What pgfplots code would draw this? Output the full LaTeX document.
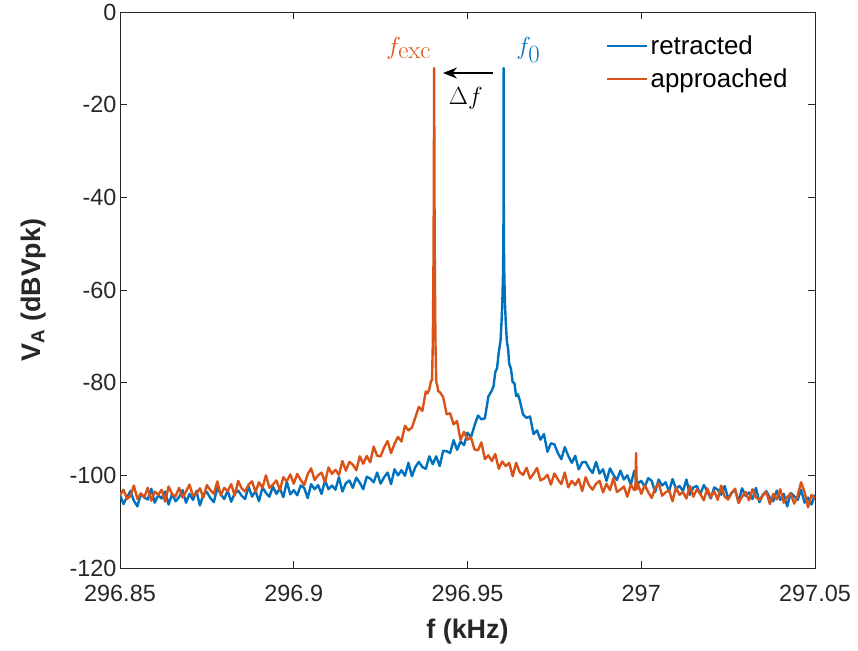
\documentclass[border=0pt]{standalone}
\usepackage[no-math]{fontspec}
\setmainfont{Liberation Sans}
\usepackage{pgfplots}
\usepackage{pgfplotstable}
\pgfplotsset{compat=1.18}
\usetikzlibrary{arrows.meta}
\definecolor{mblue}{rgb}{0,0.447,0.741}
\definecolor{morange}{rgb}{0.85,0.325,0.098}
\definecolor{mgray}{rgb}{0.15,0.15,0.15}

% x = (f - 296.85 kHz) in Hz
\pgfplotstableread{
x y
0 -104.2
1 -106.2
2 -104.7
3 -103.4
4 -105.5
5 -106.7
6 -104.0
7 -104.8
8 -105.2
9 -102.9
10 -105.9
11 -104.3
12 -105.0
13 -103.5
14 -106.3
15 -104.0
16 -105.6
17 -104.7
18 -103.2
19 -105.9
20 -104.0
21 -105.3
22 -103.4
23 -106.5
24 -104.1
25 -103.6
26 -104.9
27 -105.8
28 -102.7
29 -104.1
30 -105.1
31 -103.3
32 -105.7
33 -103.9
34 -103.3
35 -104.4
36 -105.1
37 -102.4
38 -104.6
39 -103.4
40 -105.6
41 -102.6
42 -103.8
43 -104.6
44 -102.4
45 -104.0
46 -102.8
47 -104.7
48 -101.4
49 -104.1
50 -103.2
51 -104.3
52 -102.2
53 -102.7
54 -104.9
55 -101.9
56 -103.0
57 -102.1
58 -104.0
59 -101.1
60 -103.0
61 -102.2
62 -103.1
63 -100.4
64 -103.5
65 -101.7
66 -101.1
67 -102.7
68 -100.5
69 -101.6
70 -103.0
71 -100.3
72 -100.7
73 -101.5
74 -99.4
75 -101.8
76 -100.4
77 -99.4
78 -101.9
79 -98.7
80 -100.0
81 -98.9
82 -100.1
83 -97.3
84 -100.2
85 -98.2
86 -97.1
87 -98.2
88 -98.6
89 -95.9
90 -97.6
91 -95.9
92 -98.0
93 -94.7
94 -94.8
95 -95.2
96 -92.4
97 -94.5
98 -92.7
99 -93.5
100 -90.8
101 -91.8
102 -89.3
103 -87.1
104 -87.9
105 -87.7
106 -83.0
107 -81.7
107.5 -80.7
108 -77.7
108.5 -76.9
109 -73.4
109.5 -71.0
109.8 -66.7
110 -63.2
110.2 -57.2
110.3 -51.2
110.35 -45
110.4 -12.1
110.45 -45
110.5 -51.2
110.6 -57.2
110.8 -63.2
111 -66.7
111.3 -70.9
111.7 -72.8
112 -75.9
112.5 -77.0
113 -79.9
113.5 -80.1
114 -82.9
114.5 -82.5
115 -83.7
116 -86.9
117 -87.6
118 -87.3
119 -91.1
120 -90.3
121 -92.3
122 -91.1
123 -94.9
124 -93.1
125 -93.3
126 -95.2
127 -96.5
128 -93.9
129 -95.8
130 -97.3
131 -95.8
132 -98.7
133 -97.2
134 -97.1
135 -98.5
136 -99.5
137 -97.1
138 -99.6
139 -98.7
140 -101.2
141 -98.5
142 -99.9
143 -101.0
144 -99.0
145 -100.9
146 -100.0
147 -102.0
148 -99.0
149 -101.8
150 -101.2
151 -102.5
152 -100.6
153 -101.2
154 -103.6
155 -100.9
156 -102.2
157 -101.5
158 -103.5
159 -100.8
160 -102.9
161 -102.3
162 -103.4
163 -100.9
164 -104.2
165 -102.6
166 -102.3
167 -104.1
168 -102.1
169 -103.4
170 -105.0
171 -102.6
172 -103.1
173 -104.2
174 -102.3
175 -105.0
176 -103.8
177 -103.1
178 -105.8
179 -102.8
180 -104.4
181 -103.7
182 -105.1
183 -102.7
184 -105.8
185 -104.2
186 -103.4
187 -104.9
188 -105.6
189 -103.3
190 -105.3
191 -104.0
192 -106.7
193 -103.8
194 -104.5
195 -105.3
196 -103.1
197 -105.9
198 -104.8
199 -106.3
200 -104.2
}\retracted

\pgfplotstableread{
x y
0 -104.3
1 -103.1
2 -105.1
3 -104.5
4 -102.2
5 -105.1
6 -103.9
7 -104.7
8 -102.7
9 -105.5
10 -103.5
11 -104.2
12 -103.1
13 -105.7
14 -102.4
15 -104.1
16 -104.5
17 -102.7
18 -104.8
19 -103.5
20 -102.0
21 -104.4
22 -103.9
23 -102.8
24 -104.8
25 -102.1
26 -103.2
27 -104.0
28 -101.3
29 -104.3
30 -102.7
31 -103.4
32 -101.9
33 -104.4
34 -101.2
35 -102.8
36 -103.5
37 -102.0
38 -101.3
39 -103.6
40 -101.5
41 -102.7
42 -100.0
43 -102.7
44 -102.0
45 -101.1
46 -103.2
47 -100.4
48 -101.3
49 -99.8
50 -101.8
51 -99.7
52 -101.0
53 -102.1
54 -99.8
55 -98.5
56 -101.0
57 -100.0
58 -99.4
59 -101.5
60 -98.3
61 -99.7
62 -98.8
63 -99.9
64 -96.9
65 -99.0
66 -97.1
67 -97.7
68 -98.9
69 -95.9
70 -97.5
71 -95.8
72 -97.2
73 -93.8
74 -95.8
75 -95.9
76 -94.0
77 -92.6
78 -95.2
79 -93.2
80 -91.7
81 -92.7
82 -89.3
83 -90.3
84 -89.7
85 -87.5
86 -85.2
87 -86.1
88 -81.9
88.5 -82.3
89 -81.5
89.5 -79.6
89.8 -79.5
90 -72
90.1 -65
90.2 -55
90.3 -40
90.4 -12.1
90.5 -40
90.6 -55
90.7 -65
90.8 -72
91 -79.8
91.3 -80.6
91.6 -81.9
92 -82.0
93 -83.1
94 -86.8
95 -86.6
96 -89.0
97 -88.3
98 -92.4
99 -90.6
100 -92.3
101 -91.8
102 -94.4
103 -94.6
104 -92.9
105 -96.5
106 -95.7
107 -96.9
108 -95.4
109 -98.6
110 -97.0
111 -98.0
112 -97.3
113 -100.2
114 -97.3
115 -99.3
116 -99.9
117 -98.4
118 -100.7
119 -99.7
120 -98.4
121 -101.1
122 -100.7
123 -99.9
124 -102.0
125 -99.6
126 -100.9
127 -101.9
128 -99.4
129 -102.6
130 -101.2
131 -102.1
132 -100.8
133 -103.4
134 -100.4
135 -102.2
136 -103.1
137 -101.8
138 -101.2
139 -103.7
140 -101.8
141 -103.2
142 -100.6
143 -103.6
144 -103.1
145 -102.4
146 -104.6
147 -102.0
148 -103.2
148.3 -103.0
148.5 -95.2
148.7 -103.0
149 -101.8
150 -104.0
151 -102.1
152 -103.6
153 -104.9
154 -102.8
155 -101.7
156 -104.4
157 -103.7
158 -103.2
159 -105.6
160 -102.6
161 -104.2
162 -103.6
163 -105.0
164 -102.3
165 -104.6
166 -103.0
167 -104.0
168 -105.4
169 -102.8
170 -104.7
171 -103.4
172 -105.3
173 -102.2
174 -104.6
175 -105.2
176 -103.8
177 -102.9
178 -106.0
179 -104.6
180 -103.6
181 -105.4
182 -103.0
183 -104.8
184 -105.3
185 -104.3
186 -103.6
187 -106.2
188 -104.0
189 -105.2
190 -103.0
191 -105.9
192 -104.7
193 -103.9
194 -106.1
195 -104.4
196 -101.5
197 -103.6
198 -106.9
199 -104.2
200 -105.0
}\approached

\begin{document}
\begin{tikzpicture}
\useasboundingbox (0,0) rectangle (858bp,651bp);
\begin{axis}[
  at={(120bp,83bp)}, anchor=south west,
  scale only axis, width=695bp, height=556bp,
  xmin=0, xmax=200, ymin=-120, ymax=0,
  xtick={0,50,100,150,200},
  xticklabels={296.85,296.9,296.95,297,297.05},
  ytick={-120,-100,-80,-60,-40,-20,0},
  yticklabels={-120,-100,-80,-60,-40,-20,0},
  tick align=inside, major tick length=7bp,
  axis line style={mgray, line width=0.8bp},
  every tick/.style={mgray, line width=0.8bp},
  tick label style={font=\fontsize{23.5}{28}\selectfont, text=mgray},
  xticklabel style={yshift=-14bp},
  xlabel={\textbf{f (kHz)}},
  ylabel={\textbf{V\textsubscript{A} (dBVpk)}},
  label style={font=\fontsize{27}{32}\selectfont, text=mgray},
  xlabel style={at={(axis description cs:0.5,0)}, anchor=center, yshift=-64bp},
  ylabel style={at={(axis description cs:-0.125,0.5)}, anchor=center},
  legend style={at={(0.6986,0.962)}, anchor=north west, draw=none, fill=none,
    font=\fontsize{26}{31}\selectfont, text=black, inner sep=0pt, row sep=8bp,
    nodes={inner sep=2.5bp}},
  legend cell align=left,
  legend image code/.code={\draw[#1] (0bp,0bp) -- (40bp,0bp);},
]
\addplot[mblue, line width=2.4bp, line join=round] table {\retracted};
\addlegendentry{retracted}
\addplot[morange, line width=2.4bp, line join=round] table {\approached};
\addlegendentry{approached}

\node[anchor=base west, text=morange, font=\fontsize{24}{28}\selectfont, inner sep=0pt]
  at (axis cs:76.6,-9.2) {$f_{\textstyle\mathrm{exc}}$};
\node[anchor=base west, text=mblue, font=\fontsize{24}{28}\selectfont, inner sep=0pt]
  at (axis cs:114.0,-9.2) {$f_{\textstyle 0}$};
\draw[-{Stealth[length=14bp,width=11bp]}, line width=1.6bp, black]
  (axis cs:107.3,-13.17) -- (axis cs:92.95,-13.17);
\node[anchor=base west, font=\fontsize{27}{32}\selectfont, inner sep=0pt]
  at (axis cs:94.6,-20.07) {$\Delta f$};
\end{axis}
\end{tikzpicture}
\end{document}
